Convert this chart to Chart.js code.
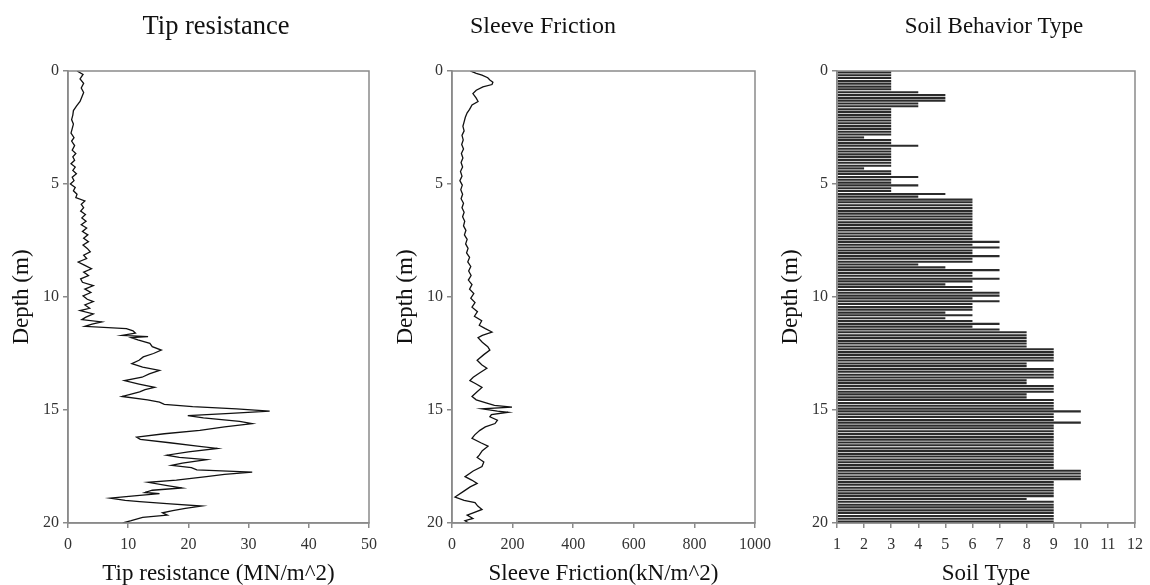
<!DOCTYPE html>
<html>
<head>
<meta charset="utf-8">
<script src="https://cdn.jsdelivr.net/npm/chart.js@4.4.1/dist/chart.umd.min.js"></script>
<style>
  html, body { margin: 0; padding: 0; background: #fff; }
  #wrap { position: relative; width: 1150px; height: 585px; overflow: hidden; }
  canvas { position: absolute; top: 0; }
</style>
</head>
<body>
<div id="wrap">
  <canvas id="tip" width="384" height="585" style="left:0"></canvas>
  <canvas id="sleeve" width="400" height="585" style="left:384px"></canvas>
  <canvas id="soil" width="381" height="585" style="left:769px"></canvas>
</div>
<script>
const tipDepth = [
  0.00, 0.15, 0.35, 0.55, 0.75, 0.95, 1.15, 1.35, 1.55, 1.75, 1.95, 2.15, 2.35, 2.55, 2.75, 2.95,
  3.10, 3.30, 3.50, 3.65, 3.80, 3.95, 4.10, 4.25, 4.40, 4.55, 4.70, 4.85, 5.00, 5.15, 5.30, 5.45,
  5.60, 5.75, 5.90, 6.05, 6.20, 6.35, 6.50, 6.65, 6.80, 6.95, 7.10, 7.25, 7.40, 7.55, 7.70, 7.85,
  8.00, 8.15, 8.30, 8.45, 8.60, 8.75, 8.90, 9.05, 9.20, 9.35, 9.50, 9.65, 9.80, 9.95, 10.10, 10.20,
  10.35, 10.50, 10.60, 10.75, 10.90, 11.00, 11.10, 11.20, 11.30, 11.40, 11.50, 11.60, 11.70, 11.75,
  11.80, 11.90, 12.05, 12.20, 12.35, 12.50, 12.65, 12.80, 12.95, 13.10, 13.25, 13.40, 13.55, 13.70,
  13.85, 14.00, 14.10, 14.20, 14.30, 14.40, 14.55, 14.65, 14.75, 14.85, 14.95, 15.05, 15.15, 15.25,
  15.35, 15.50, 15.60, 15.75, 15.90, 16.05, 16.20, 16.30, 16.45, 16.60, 16.70, 16.85, 17.00, 17.10,
  17.20, 17.35, 17.45, 17.55, 17.65, 17.75, 17.85, 17.95, 18.10, 18.20, 18.35, 18.45, 18.55, 18.65,
  18.70, 18.80, 18.90, 19.00, 19.05, 19.15, 19.25, 19.35, 19.45, 19.55, 19.65, 19.75, 19.90, 20.00
];
const tipValue = [
  1.5, 2.5, 2.0, 2.6, 2.2, 2.6, 2.3, 2.0, 1.4, 0.9, 0.8, 0.6, 0.9, 0.7, 0.5, 1.0,
  0.6, 1.1, 0.7, 1.3, 0.8, 1.1, 0.5, 1.2, 0.8, 1.4, 0.7, 1.0, 0.4, 1.2, 0.9, 1.5,
  1.3, 2.8, 2.2, 2.6, 2.1, 2.9, 2.3, 3.0, 2.2, 3.1, 2.4, 3.3, 2.6, 3.4, 2.5, 3.2,
  3.7, 2.6, 3.1, 1.7, 2.8, 3.9, 2.6, 3.4, 2.1, 2.4, 4.2, 2.8, 3.8, 2.5, 3.2, 4.2,
  2.8, 3.6, 2.0, 4.2, 2.9, 2.3, 5.6, 4.0, 2.8, 9.7, 10.8, 11.2, 9.0, 13.3,
  10.5, 11.6, 13.6, 14.0, 15.5, 14.2, 12.5, 11.8, 10.6, 12.4, 15.2, 13.5, 12.3, 9.4,
  11.8, 14.4, 12.8, 11.9, 10.5, 9.0, 13.2, 15.2, 16.0, 20.7, 28.0, 33.5, 27.0, 19.9,
  22.5, 28.5, 30.6, 26.0, 21.9, 16.0, 11.4, 12.0, 16.9, 21.5, 24.8, 20.0, 16.4, 18.5,
  23.0, 19.0, 17.2, 20.5, 21.4, 30.6, 26.0, 23.0, 18.0, 13.3, 16.5, 18.9, 14.0, 12.8,
  15.2, 11.0, 7.0, 9.5, 11.9, 17.0, 22.2, 19.5, 17.4, 15.7, 16.5, 12.4, 10.5, 9.1
];

const sleeveDepth = [
  0.00, 0.10, 0.18, 0.30, 0.40, 0.50, 0.60, 0.70, 0.85, 1.00, 1.20, 1.35, 1.50, 1.70, 1.85, 2.05,
  2.25, 2.45, 2.65, 2.85, 3.05, 3.25, 3.45, 3.65, 3.85, 4.05, 4.25, 4.45, 4.65, 4.85, 5.05, 5.25,
  5.45, 5.65, 5.85, 6.05, 6.25, 6.45, 6.65, 6.85, 7.05, 7.25, 7.45, 7.65, 7.85, 8.05, 8.25, 8.45,
  8.65, 8.85, 9.05, 9.25, 9.45, 9.65, 9.85, 10.05, 10.25, 10.45, 10.65, 10.85, 11.05, 11.25, 11.40,
  11.55, 11.70, 11.80, 12.00, 12.20, 12.35, 12.55, 12.80, 13.00, 13.15, 13.35, 13.55, 13.70, 13.85,
  14.00, 14.20, 14.40, 14.55, 14.70, 14.80, 14.87, 14.95, 15.05, 15.10, 15.20, 15.30, 15.45, 15.60,
  15.75, 15.90, 16.10, 16.25, 16.45, 16.60, 16.80, 17.00, 17.10, 17.30, 17.50, 17.70, 17.95, 18.10,
  18.25, 18.40, 18.60, 18.85, 19.00, 19.10, 19.25, 19.40, 19.55, 19.65, 19.80, 19.90, 20.00
];
const sleeveValue = [
  60, 80, 99, 118, 125, 135, 132, 102, 80, 69, 80, 86, 66, 58, 50, 44,
  40, 36, 40, 33, 37, 32, 38, 31, 36, 30, 35, 28, 33, 26, 34, 29,
  35, 30, 38, 33, 40, 35, 42, 38, 46, 41, 50, 45, 53, 48, 58, 52,
  62, 55, 63, 54, 66, 58, 72, 62, 76, 66, 84, 74, 98, 90, 110,
  132, 100, 86, 100, 118, 125, 105, 83, 98, 115, 92, 70, 59, 80,
  99, 82, 66, 80, 115, 140, 198, 99, 150, 185, 130, 125, 150, 142,
  110, 92, 75, 66, 95, 119, 100, 90, 83, 105, 99, 70, 43, 65,
  83, 60, 38, 10, 40, 76, 85, 99, 70, 50, 69, 43, 55
];

const soilDepth = [
  0.06, 0.19, 0.31, 0.44, 0.56, 0.69, 0.81, 0.94,
  1.06, 1.19, 1.31, 1.44, 1.56, 1.69, 1.81, 1.94,
  2.06, 2.19, 2.31, 2.44, 2.56, 2.69, 2.81, 2.94,
  3.06, 3.19, 3.31, 3.44, 3.56, 3.69, 3.81, 3.94,
  4.06, 4.19, 4.31, 4.44, 4.56, 4.69, 4.81, 4.94,
  5.06, 5.19, 5.31, 5.44, 5.56, 5.69, 5.81, 5.94,
  6.06, 6.19, 6.31, 6.44, 6.56, 6.69, 6.81, 6.94,
  7.06, 7.19, 7.31, 7.44, 7.56, 7.69, 7.81, 7.94,
  8.06, 8.19, 8.31, 8.44, 8.56, 8.69, 8.81, 8.94,
  9.06, 9.19, 9.31, 9.44, 9.56, 9.69, 9.81, 9.94,
  10.06, 10.19, 10.31, 10.44, 10.56, 10.69, 10.81, 10.94,
  11.06, 11.19, 11.31, 11.44, 11.56, 11.69, 11.81, 11.94,
  12.06, 12.19, 12.31, 12.44, 12.56, 12.69, 12.81, 12.94,
  13.06, 13.19, 13.31, 13.44, 13.56, 13.69, 13.81, 13.94,
  14.06, 14.19, 14.31, 14.44, 14.56, 14.69, 14.81, 14.94,
  15.06, 15.19, 15.31, 15.44, 15.56, 15.69, 15.81, 15.94,
  16.06, 16.19, 16.31, 16.44, 16.56, 16.69, 16.81, 16.94,
  17.06, 17.19, 17.31, 17.44, 17.56, 17.69, 17.81, 17.94,
  18.06, 18.19, 18.31, 18.44, 18.56, 18.69, 18.81, 18.94,
  19.06, 19.19, 19.31, 19.44, 19.56, 19.69, 19.81, 19.94
];
const soilType = [
  3, 3, 3, 3, 3, 3, 3, 4,
  5, 5, 5, 4, 4, 3, 3, 3,
  3, 3, 3, 3, 3, 3, 3, 2,
  3, 3, 4, 3, 3, 3, 3, 3,
  3, 3, 2, 3, 3, 4, 3, 3,
  4, 3, 3, 5, 4, 6, 6, 6,
  6, 6, 6, 6, 6, 6, 6, 6,
  6, 6, 6, 6, 7, 6, 7, 6,
  6, 7, 6, 6, 4, 5, 7, 6,
  6, 7, 6, 5, 6, 6, 7, 7,
  6, 7, 6, 6, 6, 5, 6, 5,
  6, 7, 6, 7, 8, 8, 8, 8,
  8, 8, 9, 9, 9, 9, 9, 8,
  8, 9, 9, 9, 9, 8, 8, 9,
  9, 9, 8, 8, 9, 9, 9, 9,
  10, 9, 9, 9, 10, 9, 9, 9,
  9, 9, 9, 9, 9, 9, 9, 9,
  9, 9, 9, 9, 9, 10, 10, 10,
  10, 9, 9, 9, 9, 9, 9, 8,
  9, 9, 9, 9, 9, 9, 9, 9
];

const depthTicks = [0, 5, 10, 15, 20];

// ── Shared styling ────────────────────────────────────
const SERIF = "'Liberation Serif', 'Times New Roman', serif";
const GREY  = '#8a8a8a';

// frame round the plot area + panel heading at a fixed x
const framePlugin = {
  id: 'frame',
  afterDraw(chart, args, opts) {
    const { ctx, chartArea: a } = chart;
    ctx.save();
    ctx.strokeStyle = GREY;
    ctx.lineWidth = 1.5;
    ctx.strokeRect(a.left, a.top, a.right - a.left, a.bottom - a.top);
    ctx.fillStyle = '#111';
    ctx.font = `${opts.size}px ${SERIF}`;
    ctx.textAlign = 'center';
    ctx.textBaseline = 'middle';
    ctx.fillText(opts.text, opts.cx, 27);
    ctx.restore();
  }
};

function depthAxis() {
  return {
    type: 'linear',
    reverse: true,
    min: depthTicks[0],
    max: depthTicks[depthTicks.length - 1],
    offset: false,
    afterFit: s => { s.width = 68; },
    afterBuildTicks: s => { s.ticks = depthTicks.map(v => ({ value: v })); },
    ticks: { color: '#333', font: { family: SERIF, size: 16 }, padding: 4 },
    grid: { offset: false, drawOnChartArea: false, tickLength: 5, color: GREY, lineWidth: 1.5 },
    border: { color: GREY, width: 1.5 },
    title: {
      display: true, text: 'Depth (m)', color: '#111',
      font: { family: SERIF, size: 23, lineHeight: 1 }, padding: { top: 10, bottom: 0 }
    }
  };
}

function valueAxis(min, max, step, label) {
  return {
    type: 'linear',
    min, max,
    afterFit: s => { s.height = 62; },
    ticks: {
      stepSize: step, color: '#333', font: { family: SERIF, size: 16 }, padding: 7, maxRotation: 0,
      callback: v => String(v)
    },
    grid: { drawOnChartArea: false, tickLength: 5, color: GREY, lineWidth: 1.5 },
    border: { color: GREY, width: 1.5 },
    title: {
      display: true, text: label, color: '#111',
      font: { family: SERIF, size: 23, lineHeight: 1 }, padding: { top: 0, bottom: 0 }
    }
  };
}

function baseOptions(title, cx, size, padRight) {
  return {
    responsive: false,
    animation: false,
    devicePixelRatio: 1,
    layout: { padding: { left: 0, right: padRight, top: 71, bottom: 0 } },
    plugins: {
      legend: { display: false },
      tooltip: { enabled: false },
      frame: { text: title, cx, size }
    }
  };
}

function profileChart(id, title, cx, size, depth, values, xMin, xMax, step, label, padRight) {
  const opts = baseOptions(title, cx, size, padRight);
  opts.scales = { x: valueAxis(xMin, xMax, step, label), y: depthAxis() };
  return new Chart(document.getElementById(id), {
    type: 'scatter',
    data: {
      datasets: [{
        data: depth.map((d, i) => ({ x: values[i], y: d })),
        showLine: true,
        borderColor: '#111',
        borderWidth: 1.3,
        pointRadius: 0,
        tension: 0
      }]
    },
    options: opts,
    plugins: [framePlugin]
  });
}

// ── Tip resistance / Sleeve friction ──────────────────
profileChart('tip', 'Tip resistance', 216, 26.5, tipDepth, tipValue, 0, 50, 10, 'Tip resistance (MN/m^2)', 14);
profileChart('sleeve', 'Sleeve Friction', 159, 24, sleeveDepth, sleeveValue, 0, 1000, 200, 'Sleeve Friction(kN/m^2)', 29);

// ── Soil behaviour type bars ──────────────────────────
const soilOpts = baseOptions('Soil Behavior Type', 225, 23, 10);
soilOpts.indexAxis = 'y';
soilOpts.scales = { x: valueAxis(1, 12, 1, 'Soil Type'), y: depthAxis() };

new Chart(document.getElementById('soil'), {
  type: 'bar',
  data: {
    datasets: [{
      data: soilDepth.map((d, i) => ({ x: soilType[i], y: d })),
      base: 1,
      backgroundColor: '#2b2b2b',
      borderWidth: 0,
      barPercentage: 0.78,
      categoryPercentage: 1
    }]
  },
  options: soilOpts,
  plugins: [framePlugin]
});
</script>
</body>
</html>
